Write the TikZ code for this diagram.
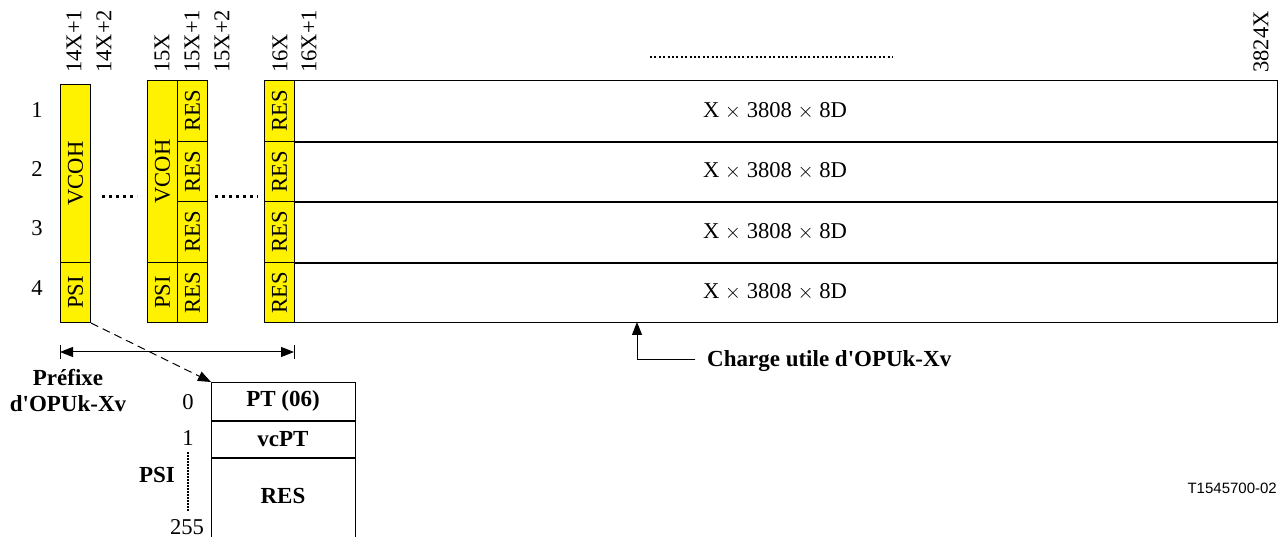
\documentclass[tikz,border=0pt]{standalone}
\usepackage{fontspec}
\setmainfont{Liberation Serif}[Ligatures=TeXOff]
\newfontfamily\arialfont{Liberation Sans}
\usetikzlibrary{arrows.meta}
\begin{document}
\begin{tikzpicture}[x=1pt,y=1pt,
  fs/.style={font=\fontsize{22.6}{25}\selectfont},
  cell/.style={draw, line width=1pt, fill=yellow, inner sep=0pt, anchor=north west, fs},
  wcell/.style={cell, fill=white},
  txt/.style={inner sep=0pt, fs},
  btxt/.style={inner sep=0pt, font=\fontsize{23}{25}\selectfont\bfseries},
  coll/.style={inner sep=0pt, fs, rotate=90, anchor=west},
  bigdots/.style={line width=3pt, dash pattern=on 3pt off 4pt},
  thindots/.style={line width=1.6pt, dash pattern=on 2pt off 2.4pt},
  arr/.style={line width=1pt, -{Triangle[length=13pt,width=10pt]}},
  darr/.style={line width=1pt, {Triangle[length=13pt,width=10pt]}-{Triangle[length=13pt,width=10pt]}}
]
\useasboundingbox (0,0) rectangle (1283,-537);
\clip (0,0) rectangle (1283,-537);

% column labels
\node[coll] (c1) at (74,-73) {14X+1};
\node[coll] (c2) at (104,-73) {14X+2};
\node[coll] (c3) at (162,-73) {15X};
\node[coll] (c4) at (192,-73) {15X+1};
\node[coll] (c5) at (222,-73) {15X+2};
\node[coll] (c6) at (280,-73) {16X};
\node[coll] (c7) at (309,-73) {16X+1};
\node[coll] (c8) at (1261,-73) {3824X};
\coordinate (dl) at (650,-57);
\coordinate (dr) at (893,-57);
\draw[thindots] (dl) -- (dr);

% row labels
\node[txt] (r1) at (37,-110) {1};
\node[txt] (r2) at (37,-169) {2};
\node[txt] (r3) at (37,-228) {3};
\node[txt] (r4) at (37,-288) {4};

% column 14X+1
\node[cell, minimum width=30pt, minimum height=178pt] (vcohA) at (60,-84) {\rotatebox{90}{VCOH}};
\node[cell, minimum width=30pt, minimum height=60pt] (psiA) at (60,-262) {\rotatebox{90}{PSI}};

% column 15X
\node[cell, minimum width=30pt, minimum height=182pt] (vcohB) at (147,-80) {\rotatebox{90}{VCOH}};
\node[cell, minimum width=30pt, minimum height=60pt] (psiB) at (147,-262) {\rotatebox{90}{PSI}};
\node[cell, minimum width=30pt, minimum height=61pt] (resB1) at (177,-80) {\rotatebox{90}{RES}};
\node[cell, minimum width=30pt, minimum height=60pt] (resB2) at (177,-141) {\rotatebox{90}{RES}};
\node[cell, minimum width=30pt, minimum height=61pt] (resB3) at (177,-201) {\rotatebox{90}{RES}};
\node[cell, minimum width=30pt, minimum height=60pt] (resB4) at (177,-262) {\rotatebox{90}{RES}};

% column 16X
\node[cell, minimum width=30pt, minimum height=61pt] (resC1) at (264,-80) {\rotatebox{90}{RES}};
\node[cell, minimum width=30pt, minimum height=60pt] (resC2) at (264,-141) {\rotatebox{90}{RES}};
\node[cell, minimum width=30pt, minimum height=61pt] (resC3) at (264,-201) {\rotatebox{90}{RES}};
\node[cell, minimum width=30pt, minimum height=60pt] (resC4) at (264,-262) {\rotatebox{90}{RES}};

% payload rows
\node[wcell, minimum width=983pt, minimum height=61pt] (p1) at (294,-80) {};
\node[wcell, minimum width=983pt, minimum height=60pt] (p2) at (294,-141) {};
\node[wcell, minimum width=983pt, minimum height=61pt] (p3) at (294,-201) {};
\node[wcell, minimum width=983pt, minimum height=60pt] (p4) at (294,-262) {};
\draw[line width=1.5pt] (p1.south west) -- (p1.south east);
\draw[line width=1.5pt] (p2.south west) -- (p2.south east);
\draw[line width=1.5pt] (p3.south west) -- (p3.south east);
\node[txt] (t1) at (775,-111) {X $\times$ 3808 $\times$ 8D};
\node[txt] (t2) at (775,-171) {X $\times$ 3808 $\times$ 8D};
\node[txt] (t3) at (775,-232) {X $\times$ 3808 $\times$ 8D};
\node[txt] (t4) at (775,-292) {X $\times$ 3808 $\times$ 8D};

% dots between columns
\coordinate (d1a) at (102,-197);
\coordinate (d1b) at (137,-197);
\coordinate (d2a) at (215,-197);
\coordinate (d2b) at (258,-197);
\draw[bigdots] (d1a) -- (d1b);
\draw[bigdots] (d2a) -- (d2b);

% prefix span arrow
\coordinate (pl) at (60,-352);
\coordinate (pr) at (294,-352);
\draw[line width=1pt] (60,-345) -- (60,-359);
\draw[line width=1pt] (294,-345) -- (294,-359);
\draw[darr] (pl) -- (pr);
\node[btxt] (pre1) at (68,-378) {Préfixe};
\node[btxt] (pre2) at (68,-404) {d'OPUk-Xv};

% PSI table
\node[wcell, minimum width=144pt, minimum height=38pt] (pt) at (211,-382) {};
\node[wcell, minimum width=144pt, minimum height=37pt] (vc) at (211,-420) {};
\node[wcell, minimum width=144pt, minimum height=90pt] (res) at (211,-457) {};
\draw[line width=1.5pt] (pt.south west) -- (pt.south east);
\draw[line width=1.5pt] (vc.south west) -- (vc.south east);
\node[btxt] at (283,-401) {PT (06)};
\node[btxt] at (283,-439) {vcPT};
\node[btxt] at (283,-496) {RES};
\node[txt] (n0) at (188,-402) {0};
\node[txt] (n1) at (188,-438) {1};
\node[txt] (n255) at (187,-527) {255};
\draw[line width=1.5pt, dash pattern=on 1.5pt off 1.5pt] (188,-452) -- (188,-512);
\node[btxt] (psil) at (157,-475) {PSI};

% dashed pointer
\draw[arr, dash pattern=on 8pt off 5pt] (psiA.south east) -- (pt.north west);

% payload pointer
\coordinate (cu) at (637,-360);
\draw[arr] (695,-360) -- (cu) -- (637,-322);
\node[btxt, anchor=west] (cul) at (707,-361) {Charge utile d'OPUk-Xv};

\node[inner sep=0pt, anchor=east, font=\arialfont\fontsize{15}{17}\selectfont] (ref) at (1277,-488) {T1545700-02};
\end{tikzpicture}
\end{document}
